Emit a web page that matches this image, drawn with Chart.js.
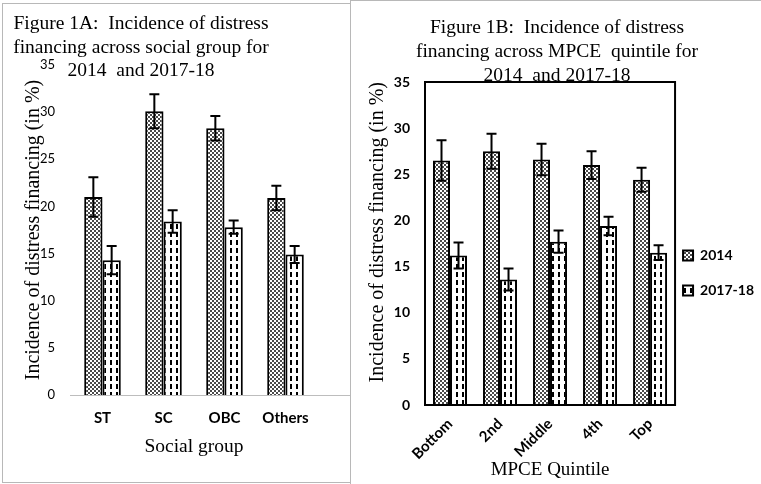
<!DOCTYPE html>
<html>
<head>
<meta charset="utf-8">
<script src="https://cdn.jsdelivr.net/npm/chart.js@4.4.0/dist/chart.umd.min.js"></script>
<style>
  html, body { margin: 0; padding: 0; background: #fff; }
  body { width: 761px; height: 484px; position: relative; overflow: hidden; }
  .panel { position: absolute; box-sizing: border-box; border: 1.5px solid #b8b8b8; }
  #panelA { left: 2px; top: 3px; width: 349px; height: 480px; }
  #panelB { left: 350px; top: 0; width: 414px; height: 486px; }
  canvas { position: absolute; top: 0; }
  #chartA { left: 0; }
  #chartB { left: 352px; }
</style>
</head>
<body>
<div class="panel" id="panelA"></div>
<div class="panel" id="panelB"></div>
<canvas id="chartA" width="350" height="484"></canvas>
<canvas id="chartB" width="409" height="484"></canvas>
<script>
// Figure 1A: social group
const socialGroups = ['ST', 'SC', 'OBC', 'Others'];
const social2014 = [21.0, 30.1, 28.3, 20.9];
const social2014Err = [2.1, 1.8, 1.3, 1.3];
const social2017 = [14.3, 18.4, 17.8, 14.9];
const social2017Err = [1.5, 1.2, 0.7, 0.9];

// Figure 1B: MPCE quintile
const quintiles = ['Bottom', '2nd', 'Middle', '4th', 'Top'];
const mpce2014 = [26.5, 27.5, 26.6, 26.0, 24.4];
const mpce2014Err = [2.2, 1.9, 1.7, 1.5, 1.3];
const mpce2017 = [16.2, 13.6, 17.7, 19.4, 16.5];
const mpce2017Err = [1.4, 1.2, 1.2, 1.0, 0.8];

const seriesLabels = ['2014', '2017-18'];
const yMin = 0, yMax = 35, yStep = 5;

const serif = '"Liberation Serif", "Times New Roman", serif';
const sans = 'Lato, "Open Sans", sans-serif';

// fill patterns: fine dots for 2014, dashed verticals for 2017-18
function dotPattern() {
    const c = document.createElement('canvas');
    c.width = 4; c.height = 4;
    const g = c.getContext('2d');
    g.fillStyle = '#fff'; g.fillRect(0, 0, 4, 4);
    g.fillStyle = '#4a4a4a';
    g.fillRect(0, 0, 2, 2);
    g.fillRect(2, 2, 2, 2);
    return g.createPattern(c, 'repeat');
}
function dashPattern() {
    const c = document.createElement('canvas');
    c.width = 6; c.height = 8;
    const g = c.getContext('2d');
    g.fillStyle = '#fff'; g.fillRect(0, 0, 6, 8);
    g.fillStyle = '#000';
    g.fillRect(2, 0, 2, 5);
    return g.createPattern(c, 'repeat');
}

const errorBars = {
    id: 'errorBars',
    afterDatasetsDraw(chart, args, opts) {
        const {ctx} = chart;
        const y = chart.scales.y;
        const cap = opts.cap || 5;
        ctx.save();
        ctx.strokeStyle = '#000';
        ctx.lineWidth = 2;
        chart.data.datasets.forEach((ds, i) => {
            chart.getDatasetMeta(i).data.forEach((bar, j) => {
                const v = ds.data[j], e = ds.errors[j];
                const top = y.getPixelForValue(v + e);
                const bot = y.getPixelForValue(v - e);
                ctx.beginPath();
                ctx.moveTo(bar.x, top); ctx.lineTo(bar.x, bot);
                ctx.moveTo(bar.x - cap, top); ctx.lineTo(bar.x + cap, top);
                ctx.moveTo(bar.x - cap, bot); ctx.lineTo(bar.x + cap, bot);
                ctx.stroke();
            });
        });
        ctx.restore();
    }
};

// gray base line that runs on to the panel edge (chart 1A)
const baseLine = {
    id: 'baseLine',
    beforeDatasetsDraw(chart, args, opts) {
        if (!opts.color) return;
        const {ctx, chartArea} = chart;
        const py = Math.round(chart.scales.y.getPixelForValue(0)) + 0.5;
        ctx.save();
        ctx.strokeStyle = opts.color;
        ctx.lineWidth = 1;
        ctx.beginPath();
        ctx.moveTo(chartArea.left - 2, py);
        ctx.lineTo(chart.width, py);
        ctx.stroke();
        ctx.restore();
    }
};

// black box round the plot (chart 1B)
const plotFrame = {
    id: 'plotFrame',
    afterDatasetsDraw(chart, args, opts) {
        if (!opts.show) return;
        const {ctx, chartArea: a} = chart;
        ctx.save();
        ctx.strokeStyle = '#000';
        ctx.lineWidth = 2;
        ctx.strokeRect(a.left, a.top, a.right - a.left, a.bottom - a.top);
        ctx.restore();
    }
};

// multi-line title that may sit over the plot area
const panelTitle = {
    id: 'panelTitle',
    afterDraw(chart, args, opts) {
        if (!opts.lines) return;
        const ctx = chart.ctx;
        ctx.save();
        ctx.font = '19.5px ' + serif;
        ctx.fillStyle = '#000';
        ctx.textAlign = 'center';
        ctx.textBaseline = 'alphabetic';
        opts.lines.forEach((t, i) => ctx.fillText(t, opts.x, opts.y + i * opts.gap));
        ctx.restore();
    }
};

function makeDatasets(a, aErr, b, bErr) {
    return [{
        label: seriesLabels[0],
        data: a,
        errors: aErr,
        backgroundColor: dotPattern(),
        borderColor: '#000',
        borderWidth: 2
    }, {
        label: seriesLabels[1],
        data: b,
        errors: bErr,
        backgroundColor: dashPattern(),
        borderColor: '#000',
        borderWidth: 2
    }];
}

const yTitleText = 'Incidence of distress financing (in %)';

new Chart(document.getElementById('chartA'), {
    type: 'bar',
    data: {
        labels: socialGroups,
        datasets: makeDatasets(social2014, social2014Err, social2017, social2017Err)
    },
    plugins: [errorBars, baseLine, panelTitle],
    options: {
        responsive: false,
        animation: false,
        layout: { padding: { left: 22, right: 34, top: 65, bottom: 25.6 } },
        datasets: { bar: { categoryPercentage: 0.6, barPercentage: 1 } },
        scales: {
            x: {
                afterFit(scale) { scale.height = 63.4; },
                grid: { display: false, drawTicks: false },
                border: { display: false },
                ticks: { color: '#000', padding: 14, font: { family: sans, size: 15, weight: 'bold' } },
                title: { display: true, text: 'Social group', color: '#000', padding: 0,
                         font: { family: serif, size: 19.5 } }
            },
            y: {
                min: yMin, max: yMax,
                afterFit(scale) { scale.width = 50; },
                grid: { display: false, drawTicks: false },
                border: { display: false },
                ticks: { stepSize: yStep, color: '#000', padding: 17, font: { family: sans, size: 13 } },
                title: { display: true, text: yTitleText, color: '#000', padding: 0,
                         font: { family: serif, size: 20 } }
            }
        },
        plugins: {
            legend: { display: false },
            tooltip: { enabled: false },
            errorBars: { cap: 5 },
            baseLine: { color: '#bdbdbd' },
            panelTitle: {
                lines: ['Figure 1A:  Incidence of distress', 'financing across social group for', '2014  and 2017-18'],
                x: 141, y: 29, gap: 23.5
            }
        }
    }
});

new Chart(document.getElementById('chartB'), {
    type: 'bar',
    data: {
        labels: quintiles,
        datasets: makeDatasets(mpce2014, mpce2014Err, mpce2017, mpce2017Err)
    },
    plugins: [errorBars, plotFrame, panelTitle],
    options: {
        responsive: false,
        animation: false,
        layout: { padding: { left: 14, right: -3, top: 82, bottom: 2.6 } },
        datasets: { bar: { categoryPercentage: 0.68, barPercentage: 1 } },
        scales: {
            x: {
                afterFit(scale) { scale.height = 76.4; },
                grid: { display: false, drawTicks: false },
                border: { display: false },
                ticks: { color: '#000', padding: 10, minRotation: 45, maxRotation: 45,
                         font: { family: sans, size: 15, weight: 'bold' } },
                title: { display: true, text: 'MPCE Quintile', color: '#000', padding: 0,
                         font: { family: serif, size: 19 } }
            },
            y: {
                min: yMin, max: yMax,
                afterFit(scale) { scale.width = 59; },
                grid: { display: false, drawTicks: false },
                border: { display: false },
                ticks: { stepSize: yStep, color: '#000', padding: 15, font: { family: sans, size: 14, weight: 'bold' } },
                title: { display: true, text: yTitleText, color: '#000', align: 'end', padding: 0,
                         font: { family: serif, size: 20 } }
            }
        },
        plugins: {
            legend: {
                position: 'right',
                align: 'start',
                title: { display: true, text: '', padding: 72 },
                labels: {
                    boxWidth: 10, boxHeight: 10, padding: 8, color: '#000',
                    font: { family: sans, size: 14, weight: 'bold', lineHeight: '27px' },
                    // one-line arrays so the row height follows the font line height
                    generateLabels(chart) {
                        return Chart.defaults.plugins.legend.labels.generateLabels(chart)
                            .map(item => Object.assign(item, { text: [item.text] }));
                    }
                }
            },
            tooltip: { enabled: false },
            errorBars: { cap: 5 },
            plotFrame: { show: true },
            panelTitle: {
                lines: ['Figure 1B:  Incidence of distress', 'financing across MPCE  quintile for', '2014  and 2017-18'],
                x: 205, y: 33, gap: 24
            }
        }
    }
});
</script>
</body>
</html>
